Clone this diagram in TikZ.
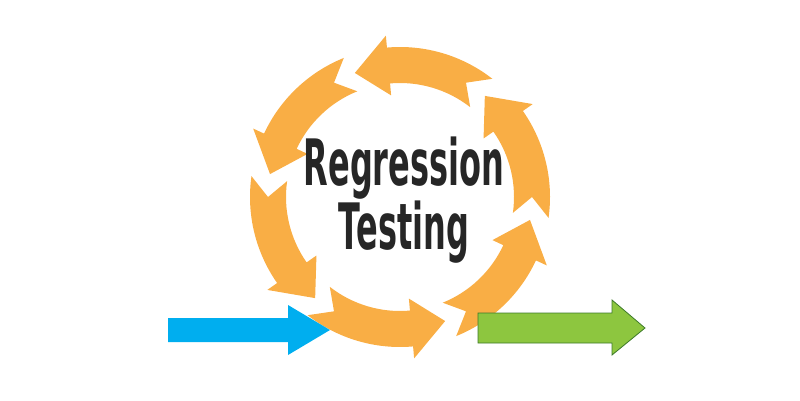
\documentclass[tikz,border=0pt]{standalone}
\usepackage{fontspec}
\setmainfont{DejaVu Sans}
\definecolor{ringorange}{HTML}{F9AE45}
\definecolor{inblue}{HTML}{00AEEF}
\definecolor{outgreen}{HTML}{8DC63F}
\definecolor{outline}{HTML}{3D7A2A}
\tikzset{
  ring seg/.style={fill=ringorange, draw=none},
  title text/.style={font=\bfseries\fontsize{64}{66}\selectfont, text=black!85, xscale=0.5, align=center}
}
\begin{document}
\begin{tikzpicture}[x=1pt,y=1pt]
  \useasboundingbox (0,0) rectangle (800,400);
  \coordinate (c) at (400,203);
  % the ring of six arrows
  \begin{scope}[shift={(c)}]
    \foreach \a in {-128,-68,-8,52,112,172}{
      \pgfmathsetmacro{\b}{\a+58}
      \pgfmathsetmacro{\h}{\b-15}
      \fill[ring seg] (\a:150) arc[start angle=\a, end angle=\h, radius=150]
        -- (\h:162) -- (\b:132) -- (\h:102) -- (\h:114)
        arc[start angle=\h, end angle=\a, radius=114]
        -- (\a+8:132) -- cycle;
    }
  \end{scope}
  \node[title text] (title) at (404,200) {Regression\\[-2pt]Testing};
  % in and out
  \coordinate (inA) at (168,70);
  \coordinate (outA) at (478,72);
  \fill[inblue] (inA) ++(0,-12) -- ++(120,0) -- ++(0,-13) -- (330,70) -- (288,95) -- ++(0,-13) -- (168,82) -- cycle;
  \filldraw[fill=outgreen, draw=outline, line width=0.8pt] (outA) ++(0,-15) -- ++(134,0) -- ++(0,-12) -- (645,72) -- (612,100) -- ++(0,-13) -- (478,87) -- cycle;
\end{tikzpicture}
\end{document}
